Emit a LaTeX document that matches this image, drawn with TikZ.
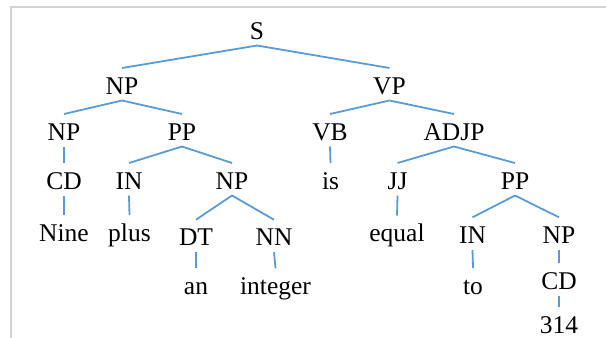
\documentclass[tikz,border=0pt]{standalone}
\usepackage{fontspec}
\setmainfont{Liberation Serif}
\newfontfamily\treefont{Liberation Serif}
\usetikzlibrary{calc}
\definecolor{treeblue}{RGB}{91,155,213}
\definecolor{framegray}{RGB}{210,210,210}
\tikzset{
  lbl/.style={anchor=base, inner sep=0pt, outer sep=0pt, font=\treefont\fontsize{25.5bp}{30bp}\selectfont},
  tedgestyle/.style={draw=treeblue, line width=1.8bp},
  framestyle/.style={draw=framegray, line width=2bp}
}
\newcommand\tedge[2]{\draw[tedgestyle] ($(#1.base)+(0,-6.5bp)$) -- ($(#2.base)+(0,26bp)$);}
\begin{document}
\begin{tikzpicture}[x=1bp,y=-1bp]
\useasboundingbox (0,0) rectangle (606,337);
\draw[framestyle] (11,340) -- (11,6.5) -- (610,6.5);
% row 1
\node[lbl] (S) at (257,39) {S};
% row 2
\node[lbl] (NPa) at (122,94) {NP};
\node[lbl] (VP) at (389.5,94) {VP};
% row 3
\node[lbl] (NPb) at (64,140) {NP};
\node[lbl] (PPa) at (182,140) {PP};
\node[lbl] (VB) at (330,140) {VB};
\node[lbl] (ADJP) at (454,140) {ADJP};
% row 4
\node[lbl] (CDa) at (64,189) {CD};
\node[lbl] (INa) at (129,189) {IN};
\node[lbl] (NPc) at (232,189) {NP};
\node[lbl] (is) at (330.5,189) {is};
\node[lbl] (JJ) at (397.5,189) {JJ};
\node[lbl] (PPb) at (515,189) {PP};
% row 5
\node[lbl] (Nine) at (64,241) {Nine};
\node[lbl] (plus) at (129.5,241) {plus};
\node[lbl] (DT) at (196,245.7) {DT};
\node[lbl] (NN) at (274,245.7) {NN};
\node[lbl] (equal) at (397,241.7) {equal};
\node[lbl] (INb) at (472.5,243.3) {IN};
\node[lbl] (NPd) at (559,243.3) {NP};
% row 6
\node[lbl] (an) at (196,294.3) {an};
\node[lbl] (integer) at (275.5,294.3) {integer};
\node[lbl] (to) at (473,294) {to};
\node[lbl] (CDb) at (559,289) {CD};
% row 7
\node[lbl] (n314) at (559,333) {314};
% edges
\tedge{S}{NPa}
\tedge{S}{VP}
\tedge{NPa}{NPb}
\tedge{NPa}{PPa}
\tedge{VP}{VB}
\tedge{VP}{ADJP}
\tedge{NPb}{CDa}
\tedge{PPa}{INa}
\tedge{PPa}{NPc}
\tedge{VB}{is}
\tedge{ADJP}{JJ}
\tedge{ADJP}{PPb}
\tedge{CDa}{Nine}
\tedge{INa}{plus}
\tedge{NPc}{DT}
\tedge{NPc}{NN}
\tedge{JJ}{equal}
\tedge{PPb}{INb}
\tedge{PPb}{NPd}
\tedge{DT}{an}
\tedge{NN}{integer}
\tedge{INb}{to}
\tedge{NPd}{CDb}
\tedge{CDb}{n314}
\end{tikzpicture}
\end{document}
